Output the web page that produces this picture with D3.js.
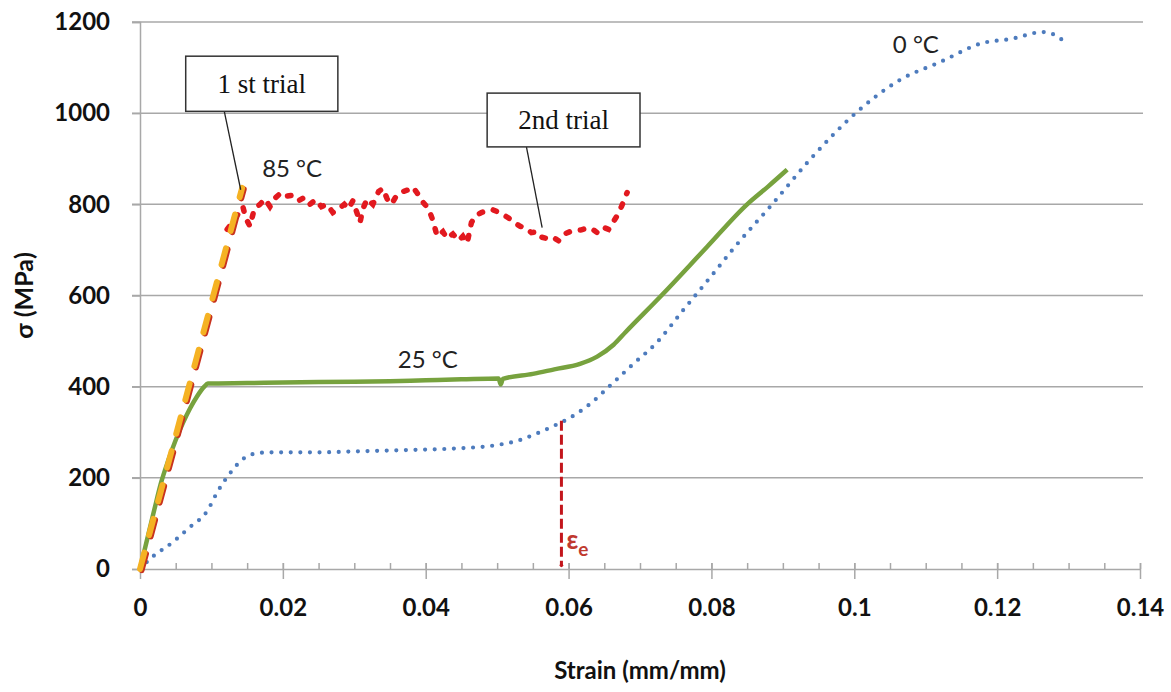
<!DOCTYPE html>
<html>
<head>
<meta charset="utf-8">
<script src="https://cdn.jsdelivr.net/npm/d3@7"></script>
<style>
  body { margin: 0; background: #fff; }
  svg { display: block; }
</style>
</head>
<body>
<div id="chart"></div>
<script>
// stress-strain curves: [strain (mm/mm), stress (MPa)]
const curve0C = [
  [0, 0], [0.0014, 22], [0.0046, 59], [0.007, 92], [0.0094, 127], [0.0108, 168],
  [0.0126, 210], [0.0144, 241], [0.0158, 252], [0.018, 256], [0.025, 256],
  [0.03, 258], [0.035, 260], [0.04, 262], [0.045, 265], [0.05, 272], [0.053, 282],
  [0.0555, 297], [0.0578, 313], [0.06, 330], [0.063, 362], [0.0658, 402],
  [0.069, 449], [0.0723, 496], [0.076, 567], [0.08, 643], [0.0833, 707],
  [0.0885, 800], [0.0938, 898], [0.1004, 1003], [0.1064, 1073], [0.112, 1112],
  [0.118, 1154], [0.122, 1163], [0.1264, 1178], [0.128, 1172], [0.1295, 1156],
];

const curve25C = [
  [0, 0], [0.001, 65], [0.002, 130], [0.003, 192], [0.004, 240], [0.005, 283],
  [0.006, 320], [0.007, 352], [0.008, 379], [0.009, 400], [0.0095, 407],
  [0.015, 408], [0.02, 409], [0.025, 410], [0.03, 411], [0.035, 412],
  [0.04, 414], [0.045, 416], [0.0502, 418], [0.0505, 405], [0.0508, 417],
  [0.055, 428], [0.058, 438], [0.0616, 450], [0.064, 466], [0.0663, 492],
  [0.068, 520], [0.073, 600], [0.0794, 707], [0.085, 800], [0.088, 840], [0.0906, 876],
];

const curve85C = [
  [0.0122, 745], [0.013, 762], [0.0138, 780], [0.0144, 795], [0.0148, 770],
  [0.0154, 752], [0.016, 790], [0.0168, 800], [0.0175, 812], [0.0182, 795],
  [0.019, 815], [0.0198, 826], [0.0206, 818], [0.0214, 820], [0.0222, 808],
  [0.023, 815], [0.0238, 800], [0.0246, 810], [0.0254, 795], [0.0262, 800],
  [0.027, 782], [0.0278, 790], [0.0286, 800], [0.0292, 790], [0.0298, 808],
  [0.0304, 780], [0.0308, 760], [0.0312, 790], [0.0318, 812], [0.0326, 800],
  [0.0334, 828], [0.034, 835], [0.0346, 812], [0.0352, 800], [0.036, 822],
  [0.0368, 828], [0.0376, 832], [0.0382, 838], [0.0388, 825], [0.0396, 805],
  [0.0404, 790], [0.041, 765], [0.0416, 730], [0.0424, 740], [0.043, 725],
  [0.0438, 735], [0.0446, 720], [0.0452, 730], [0.0458, 715], [0.0464, 760],
  [0.047, 775], [0.0478, 782], [0.0486, 786], [0.0494, 788], [0.05, 784],
  [0.0508, 778], [0.0516, 770], [0.0524, 760], [0.0532, 752], [0.054, 748],
  [0.0548, 738], [0.0556, 740], [0.0562, 728], [0.057, 725], [0.0578, 728],
  [0.0586, 720], [0.0594, 735], [0.0602, 740], [0.061, 742], [0.0618, 744],
  [0.0626, 748], [0.0634, 745], [0.064, 738], [0.0648, 750], [0.0656, 745],
  [0.0662, 760], [0.0668, 775], [0.0674, 795], [0.0682, 826],
];

const firstTrial = [[0, 0], [0.0143, 836]];
const strainE = [[0.059, 325], [0.059, 8]];

const xTicks = [0, 0.02, 0.04, 0.06, 0.08, 0.1, 0.12, 0.14];
const yTicks = [0, 200, 400, 600, 800, 1000, 1200];

// text labels and callouts, anchored in data units
const curveLabels = [
  { text: '85 °C', x: 0.0171, y: 860 },
  { text: '25 °C', x: 0.0361, y: 442 },
  { text: '0 °C', x: 0.1054, y: 1132 },
];
const callouts = [
  { text: '1 st trial', x0: 0.0064, x1: 0.0277, y0: 1004, y1: 1125, from: [0.0118, 1004], to: [0.0141, 832] },
  { text: '2nd trial', x0: 0.0486, x1: 0.07, y0: 926, y1: 1044, from: [0.0541, 926], to: [0.0563, 749] },
];

const size = { width: 1171, height: 692 };
const margin = { top: 22, right: 31, bottom: 123, left: 140 };

const svg = d3.select('#chart')
  .append('svg')
  .attr('width', size.width)
  .attr('height', size.height);

const x = d3.scaleLinear()
  .domain([0, 0.14])
  .range([margin.left, size.width - margin.right]);

const y = d3.scaleLinear()
  .domain([0, 1200])
  .range([size.height - margin.bottom, margin.top]);

const gridColor = '#a8a8a8';
const labelFont = 'Lato, "Open Sans", sans-serif';

// horizontal grid
svg.append('g')
  .selectAll('line')
  .data(yTicks.filter((d) => d > 0))
  .join('line')
  .attr('x1', x(0) - 8)
  .attr('x2', x(0.14) + 3)
  .attr('y1', (d) => y(d))
  .attr('y2', (d) => y(d))
  .attr('stroke', gridColor)
  .attr('stroke-width', 1.5);

// y axis
const yAxis = svg.append('g')
  .attr('transform', `translate(${x(0)},0)`)
  .call(d3.axisLeft(y).tickValues(yTicks).tickSize(8).tickFormat(d3.format('d')));
yAxis.select('.domain').attr('stroke', gridColor).attr('stroke-width', 1.5);
yAxis.selectAll('.tick line').attr('stroke', gridColor).attr('stroke-width', 1.5);
yAxis.selectAll('.tick text')
  .attr('x', -30)
  .attr('font-family', labelFont)
  .attr('font-weight', 'bold')
  .attr('font-size', 24)
  .attr('fill', '#111');

// x axis: inside minor ticks, crossing major ticks
const xAxisG = svg.append('g')
  .attr('transform', `translate(0,${y(0)})`);
xAxisG.append('g')
  .call(d3.axisTop(x).tickValues(d3.range(0, 0.1401, 0.005)).tickSize(6).tickFormat(''))
  .call((g) => g.select('.domain').remove())
  .selectAll('line').attr('stroke', gridColor).attr('stroke-width', 1.5);
const xAxis = xAxisG.append('g')
  .call(d3.axisBottom(x).tickValues(xTicks).tickSize(10).tickSizeOuter(0)
    .tickFormat((d) => (d === 0 ? '0' : String(+d.toFixed(2)))));
xAxis.select('.domain').attr('stroke', gridColor).attr('stroke-width', 1.5);
xAxis.selectAll('.tick line').attr('stroke', gridColor).attr('stroke-width', 1.5).attr('y1', -6);
xAxis.selectAll('.tick text')
  .attr('y', 30)
  .attr('font-family', labelFont)
  .attr('font-weight', 'bold')
  .attr('font-size', 24)
  .attr('fill', '#111');

// axis titles
svg.append('text')
  .attr('x', (x(0) + x(0.14)) / 2)
  .attr('y', 679)
  .attr('text-anchor', 'middle')
  .attr('font-family', labelFont)
  .attr('font-weight', 'bold')
  .attr('font-size', 24)
  .attr('fill', '#111')
  .text('Strain (mm/mm)');

svg.append('text')
  .attr('transform', `translate(33,${y(600)}) rotate(-90)`)
  .attr('text-anchor', 'middle')
  .attr('font-family', labelFont)
  .attr('font-weight', 'bold')
  .attr('font-size', 25)
  .attr('fill', '#111')
  .text('σ (MPa)');

const line = d3.line()
  .x((d) => x(d[0]))
  .y((d) => y(d[1]));
const smooth = d3.line()
  .x((d) => x(d[0]))
  .y((d) => y(d[1]))
  .curve(d3.curveMonotoneX);

// 0 °C: round dots
svg.append('path')
  .attr('d', smooth(curve0C))
  .attr('fill', 'none')
  .attr('stroke', '#4d7bbd')
  .attr('stroke-width', 4.2)
  .attr('stroke-linecap', 'round')
  .attr('stroke-dasharray', '0 9.6');

// 25 °C: solid green
svg.append('path')
  .attr('d', smooth(curve25C))
  .attr('fill', 'none')
  .attr('stroke', '#77a23e')
  .attr('stroke-width', 4.5)
  .attr('stroke-linejoin', 'round');

// 85 °C: short red dashes
svg.append('path')
  .attr('d', line(curve85C))
  .attr('fill', 'none')
  .attr('stroke', '#e2191f')
  .attr('stroke-width', 5.5)
  .attr('stroke-linecap', 'round')
  .attr('stroke-dasharray', '3.5 11');

// 1st trial: orange dashes with a red edge
svg.append('path')
  .attr('d', line(firstTrial))
  .attr('transform', 'translate(1.6,1.2)')
  .attr('fill', 'none')
  .attr('stroke', '#c8321e')
  .attr('stroke-width', 6)
  .attr('stroke-linecap', 'round')
  .attr('stroke-dasharray', '17 18');
svg.append('path')
  .attr('d', line(firstTrial))
  .attr('fill', 'none')
  .attr('stroke', '#f5b223')
  .attr('stroke-width', 6)
  .attr('stroke-linecap', 'round')
  .attr('stroke-dasharray', '17 18');

// strain marker
svg.append('path')
  .attr('d', line(strainE))
  .attr('fill', 'none')
  .attr('stroke', '#c3161c')
  .attr('stroke-width', 3)
  .attr('stroke-dasharray', '10 4');
svg.append('circle')
  .attr('cx', x(0.059))
  .attr('cy', y(8))
  .attr('r', 1.8)
  .attr('fill', '#c3161c');

const eps = svg.append('text')
  .attr('x', x(0.059) + 5)
  .attr('y', y(44))
  .attr('font-family', labelFont)
  .attr('font-weight', 'bold')
  .attr('font-size', 26)
  .attr('fill', '#c0392f');
eps.append('tspan').text('ε');
eps.append('tspan').attr('font-size', 19).attr('dy', 7).text('e');

// curve labels
svg.append('g')
  .selectAll('text')
  .data(curveLabels)
  .join('text')
  .attr('x', (d) => x(d.x))
  .attr('y', (d) => y(d.y))
  .attr('font-family', labelFont)
  .attr('font-size', 24)
  .attr('fill', '#222')
  .text((d) => d.text);

// callout boxes
const co = svg.append('g')
  .selectAll('g')
  .data(callouts)
  .join('g');
co.append('line')
  .attr('x1', (d) => x(d.from[0]))
  .attr('y1', (d) => y(d.from[1]))
  .attr('x2', (d) => x(d.to[0]))
  .attr('y2', (d) => y(d.to[1]))
  .attr('stroke', '#222')
  .attr('stroke-width', 1.3);
co.append('rect')
  .attr('x', (d) => x(d.x0))
  .attr('y', (d) => y(d.y1))
  .attr('width', (d) => x(d.x1) - x(d.x0))
  .attr('height', (d) => y(d.y0) - y(d.y1))
  .attr('fill', '#fff')
  .attr('stroke', '#333')
  .attr('stroke-width', 1.5);
co.append('text')
  .attr('x', (d) => (x(d.x0) + x(d.x1)) / 2)
  .attr('y', (d) => (y(d.y0) + y(d.y1)) / 2 + 9)
  .attr('text-anchor', 'middle')
  .attr('font-family', '"Liberation Serif", "Times New Roman", serif')
  .attr('font-size', 27)
  .attr('fill', '#111')
  .text((d) => d.text);
</script>
</body>
</html>
